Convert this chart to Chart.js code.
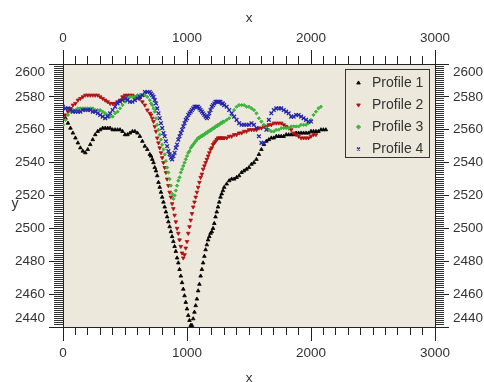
<!DOCTYPE html>
<html>
<head>
<meta charset="utf-8">
<script src="https://cdn.jsdelivr.net/npm/chart.js@4/dist/chart.umd.min.js"></script>
<style>
  html, body { margin: 0; padding: 0; background: #fff; }
  canvas { display: block; }
</style>
</head>
<body>
<canvas id="chart" width="484" height="382"></canvas>
<script>
// distance along the profile (shared by all four profiles)
const distance = [
  0, 20, 40, 60, 80, 100, 120, 140, 160, 180, 200, 220, 240, 260, 280, 300, 320, 340, 360, 380,
  400, 420, 440, 460, 480, 500, 520, 540, 560, 580, 600, 620, 640, 660, 680, 700,
  710, 720, 730, 740, 750, 760, 770, 780, 790, 800, 810, 820, 830, 840, 850, 860, 870, 880, 890, 900,
  910, 920, 930, 940, 950, 960, 970, 980, 990, 1000, 1010, 1020, 1030, 1040, 1050, 1060, 1070, 1080, 1090, 1100,
  1110, 1120, 1130, 1140, 1150, 1160, 1170, 1180, 1190, 1200, 1210, 1220, 1230, 1240, 1250, 1260, 1270, 1280, 1290, 1300,
  1320, 1340, 1360, 1380, 1400, 1420, 1440, 1460, 1480, 1500, 1520, 1540, 1560, 1580, 1600, 1620, 1640, 1660, 1680, 1700,
  1720, 1740, 1760, 1780, 1800, 1820, 1840, 1860, 1880, 1900, 1920, 1940, 1960, 1980, 2000, 2020, 2040, 2060, 2080, 2100,
  2120
];

const profile1 = [
  2569, 2567, 2564, 2561, 2558, 2555, 2552, 2549, 2547, 2546, 2548, 2551, 2554, 2557, 2559, 2560, 2561, 2561, 2561, 2561,
  2560, 2560, 2560, 2560, 2559, 2557, 2557, 2558, 2559, 2559, 2558, 2556, 2553, 2550, 2548, 2545,
  2544, 2542, 2540, 2537, 2535, 2532, 2528, 2525, 2522, 2519, 2516, 2513, 2510, 2507, 2504, 2501, 2498, 2495, 2492, 2489,
  2486, 2482, 2479, 2475, 2471, 2467, 2463, 2459, 2455, 2451, 2447, 2444, 2441, 2441, 2445, 2449, 2453, 2457, 2462, 2466,
  2471, 2475, 2479, 2483, 2487, 2490, 2493, 2495, 2497, 2498, 2500, 2503, 2507, 2510, 2513, 2516, 2519, 2521, 2523, 2525,
  2527, 2529, 2530, 2530, 2531, 2532, 2534, 2535, 2536, 2537, 2539, 2540, 2542, 2545, 2548, 2551, 2553, 2554, 2555, 2555,
  2556, 2556, 2556, 2556, 2557, 2557, 2557, 2557, 2558, 2558, 2558, 2558, 2558, 2558, 2559, 2559, 2559, 2559, 2560, 2560,
  2560
];

const profile2 = [
  2567, 2569, 2571, 2573, 2575, 2576, 2578, 2579, 2580, 2581, 2581, 2581, 2581, 2581, 2581, 2580, 2579, 2578, 2577, 2576,
  2576, 2576, 2577, 2578, 2580, 2581, 2581, 2581, 2581, 2580, 2580, 2579, 2577, 2575, 2572, 2570,
  2569, 2567, 2565, 2562, 2559, 2555, 2552, 2549, 2546, 2543, 2540, 2537, 2534, 2530, 2526, 2522, 2519, 2515, 2512, 2508,
  2504, 2500, 2497, 2493, 2489, 2485, 2482, 2484, 2488, 2492, 2497, 2501, 2505, 2509, 2513, 2516, 2519, 2522, 2525, 2528,
  2531, 2533, 2536, 2538, 2540, 2542, 2544, 2546, 2548, 2549, 2551, 2552, 2553, 2554, 2555, 2555, 2555, 2555, 2555, 2555,
  2555, 2556, 2556, 2557, 2557, 2558, 2558, 2559, 2559, 2560, 2560, 2560, 2560, 2561, 2561, 2562, 2562, 2563, 2563, 2564,
  2564, 2564, 2564, 2563, 2562, 2561, 2560, 2558, 2557, 2556, 2555, 2555, 2555, 2555, 2556, 2557, 2557
];

const profile3 = [
  2563, 2566, 2569, 2571, 2572, 2572, 2573, 2573, 2573, 2573, 2573, 2573, 2573, 2572, 2572, 2572, 2571, 2570, 2569, 2568,
  2568, 2570, 2571, 2573, 2575, 2577, 2579, 2580, 2580, 2580, 2581, 2581, 2581, 2581, 2580, 2578,
  2576, 2575, 2573, 2571, 2567, 2563, 2560, 2557, 2554, 2551, 2548, 2545, 2541, 2537, 2534, 2530, 2526, 2521, 2518, 2520,
  2523, 2526, 2529, 2531, 2534, 2536, 2538, 2540, 2542, 2544, 2546, 2547, 2549, 2550, 2551, 2552, 2553, 2554, 2555, 2555,
  2556, 2556, 2557, 2557, 2558, 2558, 2559, 2559, 2560, 2560, 2561, 2561, 2562, 2562, 2563, 2563, 2564, 2564, 2565, 2565,
  2566, 2567, 2569, 2572, 2574, 2575, 2575, 2575, 2574, 2574, 2573, 2572, 2570, 2567, 2565, 2563, 2561, 2560, 2559, 2559,
  2560, 2560, 2561, 2561, 2561, 2561, 2562, 2562, 2562, 2562, 2563, 2563, 2563, 2564, 2566, 2569, 2571, 2573, 2574
];

const profile4 = [
  2574, 2573, 2573, 2572, 2571, 2571, 2571, 2571, 2572, 2572, 2572, 2572, 2571, 2571, 2570, 2569, 2568, 2567, 2568, 2570,
  2572, 2574, 2576, 2577, 2578, 2579, 2578, 2577, 2577, 2578, 2579, 2580, 2581, 2583, 2583, 2583,
  2582, 2581, 2580, 2578, 2576, 2573, 2570, 2567, 2564, 2561, 2558, 2556, 2553, 2550, 2547, 2545, 2543, 2542, 2544, 2546,
  2549, 2551, 2554, 2556, 2558, 2560, 2562, 2564, 2566, 2567, 2569, 2570, 2571, 2572, 2573, 2574, 2574, 2574, 2574, 2573,
  2572, 2571, 2570, 2569, 2568, 2567, 2568, 2570, 2572, 2574, 2575, 2576, 2577, 2577, 2577, 2577, 2577, 2576, 2576, 2575,
  2574, 2572, 2570, 2568, 2566, 2564, 2563, 2563, 2563, 2563, 2564, 2563, 2561, 2556, 2552, 2552, 2560, 2566, 2570, 2572,
  2573, 2573, 2573, 2572, 2571, 2570, 2568, 2568, 2569, 2569, 2568, 2567, 2566, 2565, 2565
];

const profileNames = ['Profile 1', 'Profile 2', 'Profile 3', 'Profile 4'];
const xTickLabels = [0, 1000, 2000, 3000];
const yTickLabels = [2440, 2460, 2480, 2500, 2520, 2540, 2560, 2580, 2600];

const FAMILY = "'Liberation Sans', Arial, Helvetica, sans-serif";
const tickFont = { family: FAMILY, size: 13.5 };
const INK = '#222';
const PLOT_BG = '#ECE9DC';

const toPoints = values => values.map((y, i) => ({ x: distance[i], y: y }));

function xAxis(position, height, titlePadding) {
    return {
        type: 'linear',
        position: position,
        min: 0,
        max: 3000,
        afterFit: scale => { scale.height = height; },
        ticks: {
            stepSize: 100,
            autoSkip: false,
            maxRotation: 0,
            padding: 10,
            color: '#333',
            font: tickFont,
            callback: v => xTickLabels.includes(v) ? String(v) : ''
        },
        grid: { drawOnChartArea: false, tickLength: 8, tickColor: INK, color: INK },
        border: { color: INK, width: 1 },
        title: { display: true, text: 'x', color: '#333', font: tickFont, padding: titlePadding }
    };
}

function yAxis(position, width) {
    return {
        type: 'linear',
        position: position,
        min: 2440,
        max: 2600,
        afterFit: scale => { scale.width = width; },
        ticks: {
            stepSize: 1.25,
            autoSkip: false,
            padding: 9,
            color: '#333',
            font: tickFont,
            callback: v => yTickLabels.includes(v) ? String(v) : ''
        },
        grid: { drawOnChartArea: false, tickLength: 9, tickColor: '#333', color: INK },
        border: { color: INK, width: 1 }
    };
}

// background, legend frame, longer major ticks, upright "y" title
const frame = {
    id: 'frame',
    afterLayout(chart) {
        const lg = chart.legend;
        if (!lg) return;
        const w = lg.width, h = lg.height;
        lg.left = 344; lg.top = 68;
        lg.right = lg.left + w; lg.bottom = lg.top + h;
    },
    beforeDraw(chart) {
        const { ctx, chartArea: a } = chart;
        ctx.save();
        ctx.fillStyle = PLOT_BG;
        ctx.fillRect(a.left, a.top, a.right - a.left, a.bottom - a.top);
        ctx.restore();

        // keep the end labels of the y axes inside the frame
        ['y', 'y2'].forEach(id => {
            const items = chart.scales[id].getLabelItems();
            if (items._shifted) return;
            items._shifted = true;
            items.forEach(it => {
                if (it.label === '2600') it.options.translation[1] += 8.5;
                if (it.label === '2440') it.options.translation[1] -= 8.5;
            });
        });
    },
    afterDraw(chart) {
        const { ctx, chartArea: a, scales } = chart;
        const align = p => Math.round(p - 0.5) + 0.5;
        ctx.save();
        ctx.strokeStyle = INK;
        ctx.lineWidth = 1;
        ctx.beginPath();
        xTickLabels.forEach(v => {
            const px = align(scales.x.getPixelForValue(v));
            ctx.moveTo(px, a.top - 14); ctx.lineTo(px, a.top);
            ctx.moveTo(px, a.bottom); ctx.lineTo(px, a.bottom + 14);
        });
        yTickLabels.forEach(v => {
            const py = align(scales.y.getPixelForValue(v));
            ctx.moveTo(a.left - 14, py); ctx.lineTo(a.left, py);
            ctx.moveTo(a.right, py); ctx.lineTo(a.right + 14, py);
        });
        ctx.stroke();

        // legend border
        ctx.strokeStyle = '#333';
        ctx.strokeRect(345.5, 69.5, 84, 88);

        ctx.fillStyle = '#333';
        ctx.font = '14px ' + FAMILY;
        ctx.textAlign = 'center';
        ctx.textBaseline = 'alphabetic';
        ctx.fillText('y', 15, 208);
        ctx.restore();
    }
};

const styles = [
    { color: '#000000', pointStyle: 'triangle', radius: 2.1, rotation: 0, border: 0.8 },
    { color: '#B01010', pointStyle: 'triangle', radius: 2.1, rotation: 180, border: 0.8 },
    { color: '#3DB43D', pointStyle: 'rectRot', radius: 1.6, rotation: 0, border: 1 },
    { color: '#2424AA', pointStyle: 'crossRot', radius: 2.6, rotation: 0, border: 1.3 }
];

const series = [profile1, profile2, profile3, profile4];

new Chart(document.getElementById('chart'), {
    type: 'scatter',
    data: {
        datasets: series.map((values, i) => ({
            label: profileNames[i],
            data: toPoints(values),
            showLine: false,
            order: 4 - i,
            backgroundColor: styles[i].color,
            borderColor: styles[i].color,
            pointStyle: styles[i].pointStyle,
            pointRadius: styles[i].radius,
            pointRotation: styles[i].rotation,
            pointBorderWidth: styles[i].border,
            pointHoverRadius: styles[i].radius
        }))
    },
    options: {
        responsive: false,
        animation: false,
        layout: { padding: 0, autoPadding: false },
        scales: {
            x: xAxis('bottom', 55, { top: 0, bottom: -4 }),
            x2: xAxis('top', 64, { top: 10, bottom: 0 }),
            y: yAxis('left', 63),
            y2: yAxis('right', 49)
        },
        plugins: {
            legend: {
                position: 'chartArea',
                align: 'start',
                labels: {
                    usePointStyle: true,
                    boxWidth: 13,
                    boxHeight: 3,
                    padding: 8,
                    color: '#333',
                    font: { family: FAMILY, size: 14 },
                    sort: (a, b) => a.datasetIndex - b.datasetIndex
                }
            },
            tooltip: { enabled: false }
        }
    },
    plugins: [frame]
});
</script>
</body>
</html>
